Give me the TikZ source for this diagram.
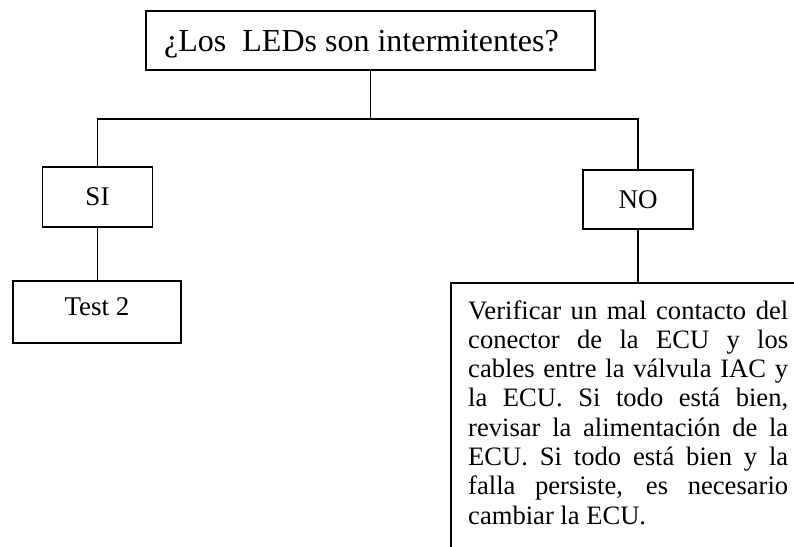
\documentclass[tikz,border=0pt]{standalone}
\usepackage{fontspec}
\setmainfont{Liberation Serif}
\tolerance=10000
\begin{document}
\begin{tikzpicture}[x=1pt,y=-1pt,
  box/.style={draw,line width=1.8pt,inner sep=0pt},
  link/.style={line width=1.3pt},
  big/.style={font=\fontsize{32}{36}\selectfont},
  mid/.style={font=\fontsize{27}{30}\selectfont}]
\useasboundingbox (0,0) rectangle (794,546);
\clip (0,0) rectangle (794,546);
\node[box,minimum width=449pt,minimum height=59pt] (q) at (370.5,40.5) {};
\node[big,anchor=base,inner sep=0pt] (qt) at (361.5,51.5) {¿Los\ \ LEDs son intermitentes?};
\node[box,mid,minimum width=110pt,minimum height=60pt] (si) at (97.5,197) {SI};
\node[box,mid,minimum width=110pt,minimum height=59pt] (no) at (638,199.5) {NO};
\node[box,mid,minimum width=168pt,minimum height=62pt,text depth=11pt] (t2) at (97,312) {Test 2};
\node[box,anchor=north west,minimum width=400pt,minimum height=320pt] (act) at (450,282) {};
\node[anchor=base west,inner sep=0pt,text width=320pt,align=justify,
  font=\fontsize{26.6}{29.3}\selectfont] (actt) at (468,319)
  {\spaceskip=6.6pt plus 20pt minus 2.5pt
   Verificar un mal contacto del\linebreak
   conector de la ECU y los\linebreak
   cables entre la válvula IAC y\linebreak
   la ECU. Si todo está bien,\linebreak
   revisar la alimentación de la\linebreak
   ECU. Si todo está bien y la\linebreak
   falla persiste, es necesario\linebreak
   cambiar la ECU.};
\coordinate (j) at (370.5,119);
\draw[link] (q.south) -- (j);
\draw[link] (si.north) |- (j) -| (no.north);
\draw[link] (si.south) -- (si.south |- t2.north);
\draw[link] (no.south) -- (no.south |- act.north);
\end{tikzpicture}
\end{document}
